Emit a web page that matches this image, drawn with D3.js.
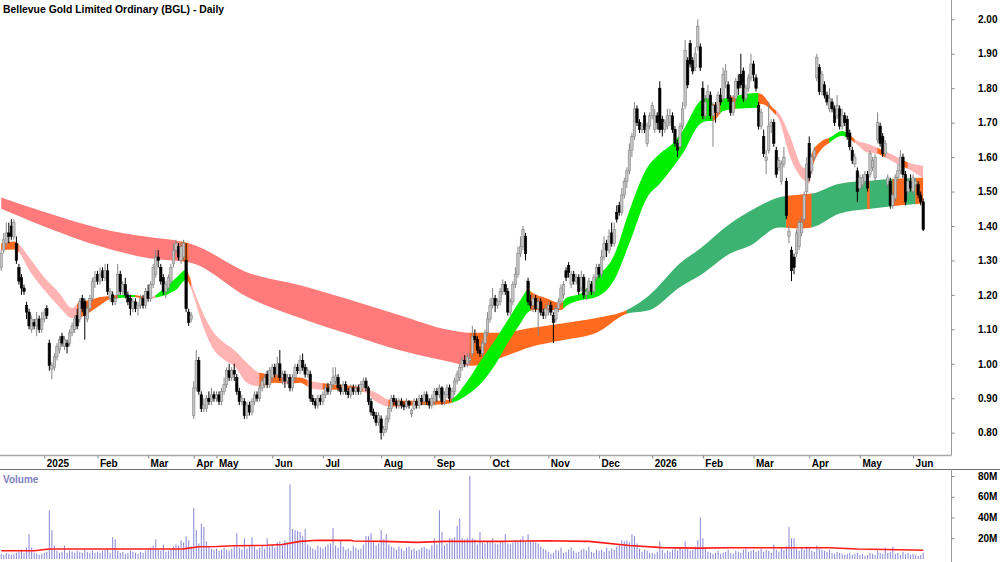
<!DOCTYPE html>
<html><head><meta charset="utf-8">
<script src="https://cdn.jsdelivr.net/npm/d3@7"></script>
<style>
body{margin:0;background:#fff}
svg{display:block;font-family:"Liberation Sans",Arial,sans-serif}
</style>
</head><body>
<svg id="chart" width="1000" height="562"></svg>
<script>
// ---------- DATA (prices in cents, volume in millions) ----------
const title = "Bellevue Gold Limited Ordinary (BGL) - Daily";
const monthLabels = ["2025","Feb","Mar","Apr","May","Jun","Jul","Aug","Sep","Oct","Nov","Dec","2026","Feb","Mar","Apr","May","Jun"];
const monthIdx    = [17,38,58,76,85,107,127,150,171,193,216,236,257,277,297,319,339,360];
const priceTicks = [0.8,0.9,1.0,1.1,1.2,1.3,1.4,1.5,1.6,1.7,1.8,1.9,2.0];
const volumeTicks = [20,40,60,80];

const open = [
128,133,135,138,140,137,135,128,125,122,117,115,110,112,111,113,110,
113,116,106,98.5,99,102,104,108,105,106,106,109,110,114,113,119,118,113,116,119,124,
126,124,127,125,127,119,120,118,120,126,121,123,120,119,116,118,116,117,119,117,
121,119,123,126,131,128,125,121,122,124,129,133,134,130,131,130,115,113,
85,93,101,91,87,87,90,89,91,
90,91,89,92,94,98,96,98,96,92,89,89,85,88,86,89,91,90,93,94,97,94,
96,99,97,100,96,97,95,96,93,96,99,98,101,99,97,97,90,89,88,90,
89,91,93,92,94,95,96,93,92,94,92,91,93,92,93,92,94,95,93,89,86,85,83,
84,80,81,84,87,90,89,88,89,88,87.5,89,85.5,87,89,88,90,89,91,89,88,
89,92,91,93,89,91,93,90,92,95,96,99,101,100,101,103,108,107,104,103,106,109,
113,117,119,117,118,121,123,121,115,118,123,126,132,134,137,124,118,117,119,116,118,115,114,
116,117,114,113,116,118,120,127,128.5,123,126,124,125,122,125,120,121,123,121,125,
128,126,131,135,133,138,135,144,146,144,149,153,156,162,166,174,170,168,172,164,169,
172,168,172,180,171,168,169,170,172,168,164,163,169,175,188,193,188,186,192,192,
180,172,177,178,172,175,173,178,177,182,181,177,173,177,182,184,185,177,180,183,
187,183,175,169,166,159,162,169,170,162,157,153,158,153,137,133,131,132,134,138,142,150,
164,156,160,183,186,179,181,178,174,176,174,172,174,169,172,171,167,162,158,156,
151,152,153,155,155,157,154,165,169,166,161,152,153,146,148,154,156,160,155,150,153,
150,152,152,149,147];
const high = [
133,138,141,141,142,142,137,129,126,123,118,116,114,113,115,114,115,
116,117,107,100.5,103,106,108,109,108,107,110,112,114,116,119,120,119,117,120,125,127,
127,128,128,129,129,122,121,120,129,127,124,125,121,120,119,119,118,120,120,122,
123,124,129,133,133,129,126,124,126,129,135,136,135,135,136,135,116,115,
95,104,102,92,90,91,92,93,92,
92,92,93,96,99,100,99,100,97,93,91,90,89,89,90,92,92,94,96,97,98,99,
100,100,102,104,98,98,97,97,97,100,100,102.5,103,100,99,98,91,90,91,91,
92,94,94.5,95,99,99,97,94,95,95,93,94,94,94,94,95,96,96,93.5,90,87,86,86,
85,82,85,88,91,91,90,90,90,89,90,89.5,87,90,90,91,91,92,92,90,91,
93,93,94,93.5,92,94,94,93,96,98,100,102,102.5,103,103,111,110,108,105,107,110,115,
119,122,120,119,122,124.5,124,122,119,124,128,134,137,140,138,125,120,120,120,119,119,116,117,
118,118,115,117,119,123,124,128,129.5,127,127,126,126,127,126,122,125,124,126,129,
129,133,137,136,139,141,141,146,147,151,154,157,164,167,176,175,171,170,173,170,173,
176,174,173,182,172,171,174,174,173,169,165,170,176,194,189,194,189,192,200,193,
182,178,181,179,176,176,179,180,186,187,182,178,178,183,184,190,186,181,184,190,
188,184,176,174,168,162,176,171,171,163,160,159,163,154,140,134,132,139,142,143,150,160,
166,161,163,190,187,185,182,179,180,177,175,178,175,174,173,172,168,163,161,157,
155,155,156,156,162,160,161,173,170,167,165,155,154,150,155,158,162,161,156,154,155,
155,154,153,150,148];
const low = [
127,132,134,135,136,136,129,123,120,120,113,110,109,110,108,109,109,
112,113,98,95.5,98,101,103,105,104,103,105,108,109,110,112,115,107,112,115,118,122,
123,123,124,124,120,118,117,117,119,120,120,119,117,114,115,115,114,116,116,116,
118,118,122,125,128,123,120,119,121,123,128,132,130,129,130,115,111,112,
84,92,91,86,86,86,88,88,89,
89,88,88,91,93,95,95,95,91,88,88,84,84,85,85,88,89,89,92,93,93,93,
95,96,96,95,94,93,94,92,92,95,97,97,98,96,96,89,88,87,87,88,
88,90,91,91,93,94,92,91,91,91,90,90,91,91,91,91,93,92,88,85,84,82,82,
78,79,80,83,86,88,87,87,87,86.5,87,87,84.5,86.5,87,87,88,88,88,87,87,
88,89,90,88,88,90,89,89,91,94,95,98,99,99,100,102,106,103,102,102,105,108,
112,116,115,116,117,120,120,114,114,117,122,125,131,133,130,117,116,115,115,108,114,113,113,
114,114,106,112,115,117,119,124,125,122,123,123,120,121,119,118.5,120,120,120,124,
125,125,130,131,132,134,134,141,143,143,148,151,155,160,165,169,167,167,167,163,168,
171,167,168,167,166,167,168,169,167,163,160,162,168,174,180,186,184,185,191,185,
171,171,176,171,163,170,172,175,176,180,176,172,172,176,178,180,176,176,179,182,
182,179,168,168,160,155,161,167,163,154,156,152,157,142,135,124,126,131,133,137,141,149,
153,155,159,182,178,178,177,175,173,173,169,171,168,168,169,165,162,158,157,147,
150,151,152,150,154,156,153,164,163,160,160,151,145,145,147,153,155,154,146,149,150,
149,151,148,146,138.5];
const close = [
132,136,138,137,137,141,130,124,122,121,115,111,113,111,113,110,113,
115,114,99.5,99.5,102,105,107,106,107,105,109,111,113,111,118,116,114,116,119,124,125,
124,126,125,127,121,121,118,119,126,121,123,120,118,116,118,116,117,119,117,121,
119,123,128,131,130,124,121,123,125,128,133,135,131,134,135,116,112,114,
93,101,92,87,88,90,89,91,90,
91,89,92,94,98,96,98,97,92,89,90,85,88,86,89,91,90,93,95,96,94,98,
99,97,100,96,97,95,96,93,96,99,98,101,99,97,98,90,89,88,90,89,
91,93,92,94,96,96.5,93,92,94,92,91,93,92,93,92,94,95,93,89,86,85,83,85,
80,81,84,87,90,89,88,89,88,87.5,89,88,86.5,89,88,90,89,91,89,88,90,
92,91,93,89,91,93,90,92,95,97,99,101,100,102,101.5,108,107,104,103,106,109,113,
117,119,117,118,121,123,121,115,118,123,126,132,134,139,132,118,117,119,116,118,115,114,116,
117,115,112,116,118,122,123,125,126.5,126,124,125,121,125,120,121,124,121,125,128,
126,131,135,133,137,135,139,142,144,149,153,156,162,166,174,170,168,169,168,169,172,
175,172,170,168,168,170,172,172,168,164,162,169,174,191,181,187,185,190,198,186,
172,176,179,172,175,173,178,176,184,185,177,173,176,182,180,181,177,180,183,187,
184,180,169,173,161,160,169,170,164,155,159,158,160,143,138.5,127,128,138,141,141,149,158,
154,160,162,189,179,184,178,176,177,174,170,175,169,172,170,166,163,159,160,150,
154,154,155,151,161,159,160,170,164,161,164,154,146,149,154,156,160,155,147,153,151,
154,153,149,147,139];
const volume = [
5,4,6,5,4,5,6,7,9,6,11,24,11,6,5,4,5,
6,7,47,28,13,8,6,7,13,6,8,7,6,8,7,6,9,7,6,8,6,
7,6,8,9,10,6,21,19,8,6,7,5,6,8,7,6,5,7,6,8,
9,11,13,19,9,8,14,7,8,10,12,14,13,18,16,22,18,12,
49,28,15,34,31,17,12,10,9,
10,8,9,11,9,8,10,12,25,11,9,20,10,13,21,12,9,11,13,10,20,12,
14,11,16,17,15,18,16,72,29,28,27,26,22,29,14,12,10,9,13,11,
10,12,14,15,30,13,11,18,12,9,10,8,13,11,9,10,14,22,22,25,16,13,15,
28,19,24,14,12,11,9,12,10,8,11,12,9,10,8,9,11,12,10,9,13,
20,14,47,26,13,15,20,20,21,32,39,20,19,20,80,20,19,14,26,16,15,17,
16,20,15,14,16,17,24,15,14,16,18,17,19,22,17,24,18,17,16,15,12,10,9,
7,5,6,9,8,11,6,7,9,11,8,6,7,9,10,8,12,7,6,9,
8,9,7,11,8,10,9,12,14,18,17,18,16,24,22,15,10,7,9,8,6,
6,5,7,17,9,6,8,7,9,10,8,11,9,17,10,8,9,12,18,40,
20,11,7,6,5,6,8,5,6,7,9,6,5,8,7,6,9,10,7,8,
9,7,8,10,7,9,8,6,14,9,7,11,9,12,31,20,20,10,8,11,9,12,
11,8,7,13,10,9,8,7,9,6,5,7,6,5,4,5,6,4,5,6,
4,5,3,4,6,5,4,8,6,5,11,6,7,12,5,6,4,7,5,6,4,
5,4,3,4,6];

// volume moving average read at sample bars (millions)
const volMAIdx = [0,13,19,26,52,72,78,85,92,105,111,118,125,138,139,151,164,175,197,215,232,236,248,261,275,288,307,327,338,360,364];
const volMA    = [8,8,9.6,9.6,9.6,9.8,11.8,12,12.8,13.2,14,17,18,18,17.3,17,16,17,17,17.6,17,16,13,11,10.5,10.9,10.9,10.9,9.6,8.7,8.5];

// short-term ribbon edges (cents) at sample bars
const shortIdx = [0,5,7,11,17,23,28,31,35,39,43,47,52,55,59,61,65,69,73,74,76,78,84,88,92,97,102,108,114,118,122,126,132,138,143,148,153,161,173,178,183,189,195,200,205,208,210,215,221,223,229,235,242,248,255,260,265,269,276,279,281,285,290,298,300,305,307,311,317,319,320,324,327,332,334,338,342,346,350,355,358,364];
const shortHi = [135,135.5,134.7,130.9,125.1,120.5,116.2,118,118.5,119.4,119.7,120,120,119.7,119.4,120,122.3,124.9,127.2,126,121.4,117.6,109,106.1,104,100.3,97.4,96.8,96,96,95,94.5,93.9,93.6,93,91.6,89.6,89.3,89.3,89.9,93.9,100.6,106.9,112.7,118.5,121.4,120.5,119.1,117.6,119.1,120.5,125.1,131.5,144.5,156.9,161,163.9,167.6,176.3,177.2,175.4,176.9,177.7,178.6,178.3,174,172.8,166.8,156.9,158.1,161,164.7,165.6,167.6,167,164.7,163.9,162.7,161.3,159.5,158.4,157.5];
const shortLo = [133,133.2,132.4,127.2,121.4,116.5,113.3,113.5,115,117,118.8,119.1,119.4,119.1,118.8,119.2,120,121.4,124.3,123.6,119.7,114.7,104,101.2,99.4,94.5,93.4,94.5,94.2,94.5,93,92.5,92.5,92.2,91.9,89,87.6,87.9,88.2,88.7,90.5,94,99.7,106.1,111.8,115,115.6,115.6,115.6,116.8,118.5,119.4,124.3,135,148.3,152.3,156.9,161,169.7,170.5,170.5,173.4,174,174.3,175.4,172.8,171,161,153.2,152.3,156.1,162.4,164.2,166.2,165.6,163.6,161.3,161,159.5,157.5,156.6,153.8];

// long-term ribbon edges (cents) at sample bars
const longIdx = [0,19,39,59,71,74,98,118,138,157,177,185,197,209,222,235,247,256,268,276,288,296,307,315,320,331,344,355,364];
const longHi  = [148.3,143.6,139.3,136.7,135.5,135,126.3,122.8,118.5,114.2,109.8,109,109,110.4,111.8,113.3,115.6,120,129.2,133.5,140.8,144.5,148.3,149.1,149.4,152.3,153.2,153.8,154];
const longLo  = [145,139.3,134.1,130.6,129.8,129.5,119.1,113.3,108.4,104,100.6,99.4,101.7,104.9,106.9,109,114.5,115.6,122.3,125.7,132.1,134.4,139.6,139.3,139.6,143.6,145.1,146,146.5];

// trend state of each ribbon over bar ranges: u = up, m = mixed, d = down
const shortStates = [[0,7,'m'],[7,30,'d'],[30,46,'m'],[46,53,'u'],[53,56,'m'],[56,61,'d'],[61,73,'u'],[73,75,'m'],[75,102,'d'],[102,111,'m'],[111,114,'d'],[114,121,'m'],[121,127,'d'],[127,143,'m'],[143,153,'d'],[153,178,'m'],[178,209,'u'],[209,222,'m'],[222,281,'u'],[281,284,'m'],[284,288,'u'],[288,290,'m'],[290,299,'u'],[299,306,'m'],[306,320,'d'],[320,327,'m'],[327,334,'u'],[334,337,'m'],[337,346,'d'],[346,349,'m'],[349,355,'d'],[355,358,'m'],[358,364,'d']];
const longStates = [[0,71,'d'],[71,74,'m'],[74,185,'d'],[185,247,'m'],[247,310,'u'],[310,320,'m'],[320,342,'u'],[342,343,'m'],[343,352,'u'],[352,357,'m'],[357,361,'u'],[361,364,'m']];

// ---------- CHART ----------
const n = close.length;
if ([open,high,low,volume].some(a => a.length !== n)) throw new Error("length mismatch " + [open.length,high.length,low.length,close.length,volume.length]);

const svg = d3.select("#chart");
const axisX = 951.5;
const x = d3.scaleLinear().domain([0, n - 1]).range([1.2, 1.2 + (n - 1) * 2.533]);
const y = d3.scaleLinear().domain([0.8, 2.0]).range([432.7, 19.3]);
const vy = d3.scaleLinear().domain([0, 80]).range([559, 476]);

const shortColors = {u: "#00ee00", m: "#ff6a1f", d: "#ffb3b3"};
const longColors  = {u: "#3cb371", m: "#ff6a1f", d: "#ff7b7b"};

const defs = svg.append("defs");
defs.append("clipPath").attr("id","pclip").append("rect").attr("x",0).attr("y",0).attr("width",axisX).attr("height",455);

function ribbon(idx, hi, lo, states, colors, name) {
  const pts = idx.map((d, k) => ({i: d, hi: hi[k] / 100, lo: lo[k] / 100}));
  const area = d3.area().x(d => x(d.i)).y0(d => y(d.lo)).y1(d => y(d.hi)).curve(d3.curveMonotoneX);
  const g = svg.append("g").attr("clip-path","url(#pclip)");
  states.forEach((s, k) => {
    const id = name + k;
    const x0 = s[0] === 0 ? 0 : x(s[0]) - 0.3;
    const x1 = x(s[1]) + 0.3;
    defs.append("clipPath").attr("id", id).append("rect")
      .attr("x", x0).attr("y", 0).attr("width", x1 - x0).attr("height", 455);
    g.append("path").datum(pts).attr("d", area).attr("fill", colors[s[2]]).attr("clip-path", `url(#${id})`);
  });
}
ribbon(longIdx, longHi, longLo, longStates, longColors, "lc");
ribbon(shortIdx, shortHi, shortLo, shortStates, shortColors, "sc");

// candles
const bars = d3.range(n).map(i => ({i, o: open[i]/100, h: high[i]/100, l: low[i]/100, c: close[i]/100}));
const cg = svg.append("g").attr("clip-path","url(#pclip)");
cg.selectAll("line.wick").data(bars).join("line")
  .attr("x1", d => x(d.i)).attr("x2", d => x(d.i))
  .attr("y1", d => y(d.h)).attr("y2", d => y(d.l))
  .attr("stroke", d => d.c >= d.o ? "#858585" : "#000").attr("stroke-width", 1);
cg.selectAll("rect.body").data(bars).join("rect")
  .attr("x", d => x(d.i) - 1.2).attr("width", 2.4)
  .attr("y", d => y(Math.max(d.o, d.c)))
  .attr("height", d => Math.max(1, Math.abs(y(d.o) - y(d.c))))
  .attr("fill", d => d.c >= d.o ? "#c4c4c4" : "#000")
  .attr("stroke", d => d.c >= d.o ? "#858585" : "#000").attr("stroke-width", 0.6);

// volume
svg.append("g").selectAll("rect").data(d3.range(n)).join("rect")
  .attr("x", i => x(i) - 0.5).attr("width", 1.05)
  .attr("y", i => vy(volume[i])).attr("height", i => vy(0) - vy(volume[i]))
  .attr("fill", "#8c8cd6");
const maPts = volMAIdx.map((d, k) => [x(d), vy(volMA[k])]);
svg.append("path").attr("d", d3.line()(maPts)).attr("fill","none").attr("stroke","#ff1a1a").attr("stroke-width",1.6);

// x axis band
svg.append("line").attr("x1",0).attr("x2",axisX).attr("y1",455.5).attr("y2",455.5).attr("stroke","#a8a8a8").attr("stroke-width",1.5);
svg.append("line").attr("x1",0).attr("x2",1000).attr("y1",469.5).attr("y2",469.5).attr("stroke","#707070").attr("stroke-width",1);
const xAxis = svg.append("g").attr("transform","translate(0,455.5)")
  .call(d3.axisBottom(x).tickValues(monthIdx).tickSize(3).tickFormat((d, k) => monthLabels[k]));
xAxis.select(".domain").remove();
xAxis.selectAll(".tick line").attr("stroke","#888");
xAxis.selectAll(".tick text").attr("text-anchor","start").attr("x",2).attr("y",11.5).attr("dy",0)
  .attr("font-size","10px").attr("font-weight","bold").attr("fill","#000").attr("font-family","Liberation Sans, Arial, sans-serif");

// right axes
svg.append("line").attr("x1",axisX).attr("x2",axisX).attr("y1",0).attr("y2",455).attr("stroke","#9a9a9a");
svg.append("line").attr("x1",axisX).attr("x2",axisX).attr("y1",469).attr("y2",562).attr("stroke","#9a9a9a");
const pAxis = svg.append("g").attr("transform",`translate(${axisX},0)`)
  .call(d3.axisRight(y).tickValues(priceTicks).tickSize(3).tickPadding(23.5).tickFormat(d3.format(".2f")));
const vAxis = svg.append("g").attr("transform",`translate(${axisX},0)`)
  .call(d3.axisRight(vy).tickValues(volumeTicks).tickSize(3).tickPadding(23.5).tickFormat(d => d + "M"));
[pAxis, vAxis].forEach(a => {
  a.select(".domain").remove();
  a.selectAll(".tick line").attr("stroke","#888");
  a.selectAll(".tick text").attr("font-size","10px").attr("font-weight","bold").attr("fill","#000")
    .attr("font-family","Liberation Sans, Arial, sans-serif");
});

// texts
svg.append("text").attr("x",3).attr("y",13).text(title)
  .attr("font-size","10.4px").attr("font-weight","bold").attr("fill","#000");
svg.append("text").attr("x",3).attr("y",483).text("Volume")
  .attr("font-size","10px").attr("font-weight","bold").attr("fill","#8080c0");
</script>
</body></html>
